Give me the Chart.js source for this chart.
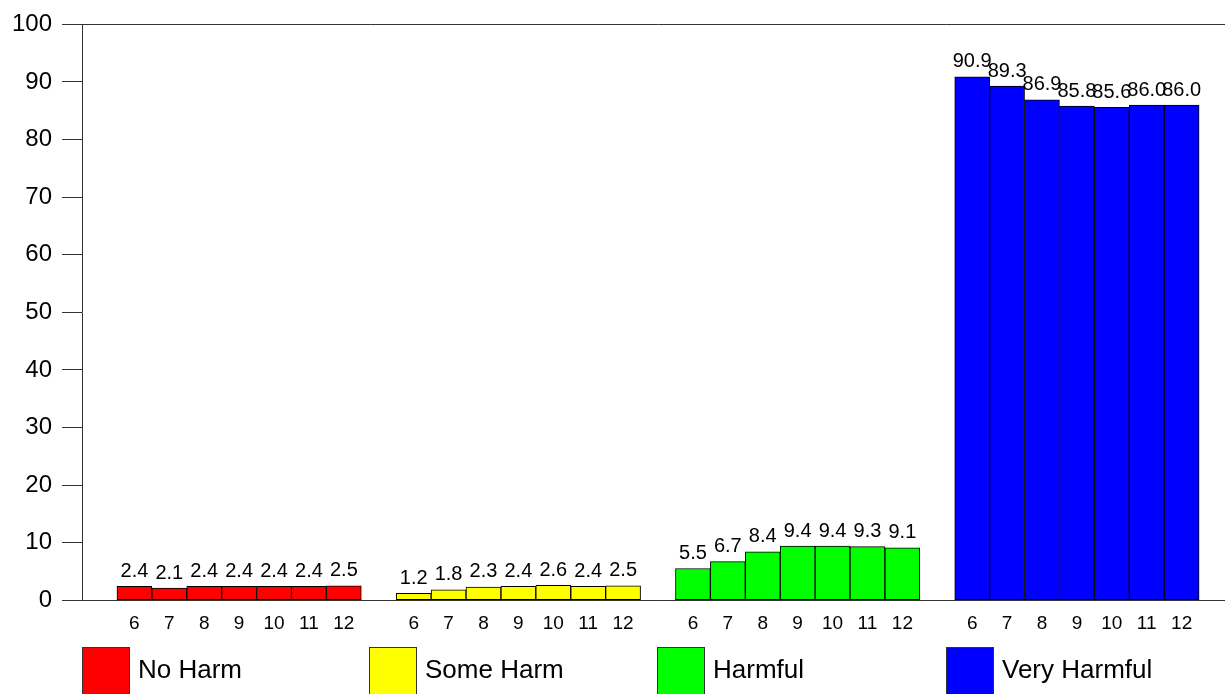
<!DOCTYPE html>
<html>
<head>
<meta charset="utf-8">
<script src="https://cdn.jsdelivr.net/npm/chart.js@4.4.1/dist/chart.umd.min.js"></script>
<style>
  html, body { margin: 0; padding: 0; background: #fff; overflow: hidden; width: 1225px; height: 694px; }
  #wrap { position: absolute; left: 0; top: 0; width: 1234px; height: 694px; }
  #legend { position: absolute; left: 0; top: 647px; width: 1225px; height: 47px; font-family: "Liberation Sans", Arial, sans-serif; }
  .item { position: absolute; top: 0; height: 48px; }
  .box { position: absolute; left: 0; top: 0; width: 48px; height: 48px; border: 1px solid #333; box-sizing: border-box; }
  .lbl { position: absolute; left: 56px; top: 7px; font-size: 26px; line-height: 30px; color: #000; white-space: nowrap; }
</style>
</head>
<body>
<div id="wrap"><canvas id="c"></canvas></div>
<div id="legend"></div>
<script>
const grades = ['6', '7', '8', '9', '10', '11', '12'];
const seriesNames = ['No Harm', 'Some Harm', 'Harmful', 'Very Harmful'];
const seriesColors = ['#FF0000', '#FFFF00', '#00FF00', '#0000FF'];
const noHarm = [2.4, 2.1, 2.4, 2.4, 2.4, 2.4, 2.5];
const someHarm = [1.2, 1.8, 2.3, 2.4, 2.6, 2.4, 2.5];
const harmful = [5.5, 6.7, 8.4, 9.4, 9.4, 9.3, 9.1];
const veryHarmful = [90.9, 89.3, 86.9, 85.8, 85.6, 86.0, 86.0];
const yTicks = [0, 10, 20, 30, 40, 50, 60, 70, 80, 90, 100];

const seriesValues = [noHarm, someHarm, harmful, veryHarmful];

// Build category labels: a blank slot before each group, and one trailing blank
const labels = [];
seriesValues.forEach(() => { labels.push(''); grades.forEach(g => labels.push(g)); });
labels.push('');

const datasets = seriesValues.map((vals, si) => {
  const data = labels.map(() => null);
  const start = si * (grades.length + 1) + 1;
  vals.forEach((v, i) => { data[start + i] = v; });
  return {
    label: seriesNames[si],
    data: data,
    backgroundColor: seriesColors[si],
    borderColor: '#000',
    borderWidth: 1,
    borderSkipped: false,
    categoryPercentage: 1.0,
    barPercentage: 1.0
  };
});

const valueLabels = {
  id: 'valueLabels',
  afterDatasetsDraw(chart) {
    const ctx = chart.ctx;
    ctx.save();
    ctx.font = '20px "Liberation Sans", Arial, sans-serif';
    ctx.fillStyle = '#000';
    ctx.textAlign = 'center';
    ctx.textBaseline = 'alphabetic';
    chart.data.datasets.forEach((ds, di) => {
      const meta = chart.getDatasetMeta(di);
      meta.data.forEach((el, i) => {
        const v = ds.data[i];
        if (v === null || v === undefined) return;
        ctx.fillText(v.toFixed(1), el.x, el.y - 9.5);
      });
    });
    ctx.restore();
  }
};

new Chart(document.getElementById('c'), {
  type: 'bar',
  data: { labels: labels, datasets: datasets },
  options: {
    responsive: true,
    maintainAspectRatio: false,
    animation: false,
    layout: { padding: { top: 24, bottom: 47, left: 2, right: 0 } },
    plugins: {
      legend: { display: false },
      tooltip: { enabled: false }
    },
    scales: {
      x: {
        stacked: true,
        grid: { display: false, drawTicks: false },
        border: { display: true, color: '#333', width: 1 },
        ticks: {
          padding: 12,
          color: '#000',
          autoSkip: false,
          maxRotation: 0,
          font: { family: '"Liberation Sans", Arial, sans-serif', size: 19 }
        }
      },
      y: {
        stacked: true,
        min: 0,
        max: 100,
        afterBuildTicks(scale) { scale.ticks = yTicks.map(v => ({ value: v })); },
        grid: {
          drawTicks: true,
          tickLength: 20,
          tickColor: '#333',
          color: (c) => (c.tick && (c.tick.value === 100 || c.tick.value === 0)) ? '#333' : 'rgba(0,0,0,0)',
          lineWidth: 1
        },
        border: { display: true, color: '#333', width: 1 },
        ticks: {
          padding: 10,
          color: '#000',
          font: { family: '"Liberation Sans", Arial, sans-serif', size: 24 }
        }
      }
    }
  },
  plugins: [valueLabels]
});

// HTML legend
const legendLeft = [82, 369, 657, 946];
const legend = document.getElementById('legend');
seriesNames.forEach((name, i) => {
  const item = document.createElement('div');
  item.className = 'item';
  item.style.left = legendLeft[i] + 'px';
  const box = document.createElement('div');
  box.className = 'box';
  box.style.background = seriesColors[i];
  const lbl = document.createElement('div');
  lbl.className = 'lbl';
  lbl.textContent = name;
  item.appendChild(box);
  item.appendChild(lbl);
  legend.appendChild(item);
});
</script>
</body>
</html>
